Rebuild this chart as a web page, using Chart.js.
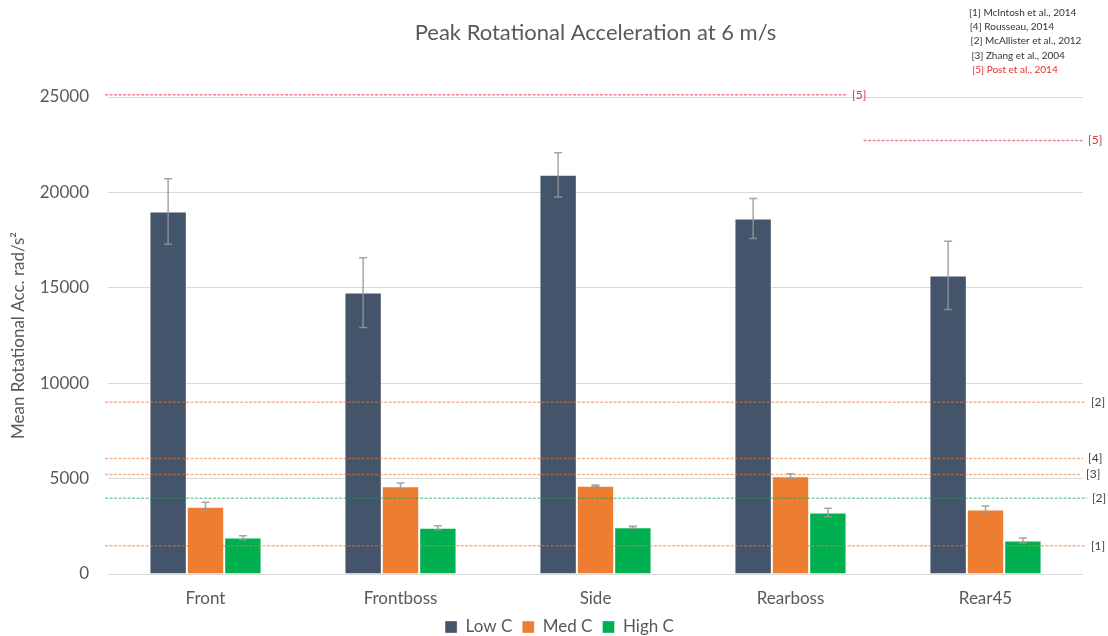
<!DOCTYPE html>
<html>
<head>
<meta charset="utf-8">
<script src="https://cdn.jsdelivr.net/npm/chart.js@4.4.1/dist/chart.umd.min.js"></script>
<style>
  html, body { margin: 0; padding: 0; background: #fff; }
  #wrap { width: 1108px; height: 636px; position: relative; }
</style>
</head>
<body>
<div id="wrap"><canvas id="accChart"></canvas></div>
<script>
// impact sites and mean peak rotational acceleration (rad/s^2)
const impactSites = ['Front', 'Frontboss', 'Side', 'Rearboss', 'Rear45'];
const lowC  = [19000, 14750, 20920, 18630, 15650];
const medC  = [3530, 4600, 4630, 5120, 3380];
const highC = [1910, 2430, 2450, 3220, 1760];
// standard deviations
const lowErr  = [1720, 1830, 1160, 1050, 1790];
const medErr  = [230, 170, 30, 130, 180];
const highErr = [100, 105, 50, 220, 130];

// published injury thresholds
const refValues = [25120, 22720, 9000, 6050, 5220, 3970, 1480];
const refTags   = ['[5]', '[5]', '[2]', '[4]', '[3]', '[2]', '[1]'];
const refSources = ['[1] McIntosh et al., 2014', '[4] Rousseau, 2014', '[2] McAllister et al., 2012',
                    '[3] Zhang et al., 2004', '[5] Post et al., 2014'];
const yTicks = [0, 5000, 10000, 15000, 20000, 25000];

const FONT = 'Lato, "Open Sans", sans-serif';
const RED = 'rgba(220, 30, 50, 0.55)';
const ORANGE = 'rgba(240, 120, 40, 0.55)';
const GREEN = 'rgba(0, 170, 80, 0.5)';
// line colour and horizontal span (fraction of plot width) for each threshold
const refLook = [
  { color: RED, from: -0.003, to: 0.758, text: '#d9393f' },
  { color: RED, from: 0.775, to: 1.0, text: '#d9393f' },
  { color: ORANGE, from: -0.003, to: 1.003, text: '#404040' },
  { color: ORANGE, from: -0.003, to: 1.0, text: '#404040' },
  { color: ORANGE, from: -0.003, to: 0.998, text: '#404040' },
  { color: GREEN, from: -0.003, to: 1.004, text: '#404040' },
  { color: ORANGE, from: -0.003, to: 1.003, text: '#404040' }
];

const errorBars = {
  id: 'errorBars',
  afterDatasetsDraw(chart) {
    const ctx = chart.ctx;
    const y = chart.scales.y;
    const errs = [lowErr, medErr, highErr];
    ctx.save();
    ctx.strokeStyle = 'rgba(150, 150, 150, 0.85)';
    ctx.lineWidth = 1.5;
    chart.data.datasets.forEach((ds, i) => {
      chart.getDatasetMeta(i).data.forEach((bar, j) => {
        const v = ds.data[j], e = errs[i][j];
        const top = y.getPixelForValue(v + e);
        const bot = y.getPixelForValue(v - e);
        ctx.beginPath();
        ctx.moveTo(bar.x, top); ctx.lineTo(bar.x, bot);
        ctx.moveTo(bar.x - 4, top); ctx.lineTo(bar.x + 4, top);
        ctx.moveTo(bar.x - 4, bot); ctx.lineTo(bar.x + 4, bot);
        ctx.stroke();
      });
    });
    ctx.restore();
  }
};

const thresholds = {
  id: 'thresholds',
  afterDatasetsDraw(chart) {
    const ctx = chart.ctx;
    const area = chart.chartArea;
    const y = chart.scales.y;
    const w = area.right - area.left;
    ctx.save();
    ctx.lineWidth = 1.5;
    ctx.setLineDash([3, 1.5]);
    ctx.font = '12px ' + FONT;
    ctx.textBaseline = 'middle';
    refValues.forEach((v, i) => {
      const look = refLook[i];
      const py = y.getPixelForValue(v);
      const x0 = area.left + look.from * w;
      const x1 = area.left + look.to * w;
      ctx.strokeStyle = look.color;
      ctx.beginPath();
      ctx.moveTo(x0, py); ctx.lineTo(x1, py);
      ctx.stroke();
      ctx.fillStyle = look.text;
      ctx.fillText(refTags[i], x1 + 5, py);
    });
    // source list, top right
    ctx.font = '10px ' + FONT;
    refSources.forEach((s, i) => {
      ctx.fillStyle = i === refSources.length - 1 ? '#e03030' : '#333';
      ctx.fillText(s, 969 + i * 0.8, 12.5 + i * 14.3);
    });
    ctx.restore();
  }
};

new Chart(document.getElementById('accChart'), {
  type: 'bar',
  data: {
    labels: impactSites,
    datasets: [
      { label: 'Low C', data: lowC, backgroundColor: '#44546a' },
      { label: 'Med C', data: medC, backgroundColor: '#ed7d31' },
      { label: 'High C', data: highC, backgroundColor: '#00b050' }
    ].map(d => Object.assign(d, {
      borderColor: 'rgba(255, 255, 255, 0.35)',
      borderWidth: 1,
      categoryPercentage: 0.575,
      barPercentage: 1.0
    }))
  },
  options: {
    responsive: true,
    maintainAspectRatio: false,
    animation: false,
    layout: { padding: { left: 36, right: 25, top: 0, bottom: -9.5 } },
    plugins: {
      title: {
        display: true,
        fullSize: false,
        text: 'Peak Rotational Acceleration at 6 m/s',
        color: '#595959',
        font: { family: FONT, size: 22, weight: 'normal' },
        padding: { top: 20, bottom: 50.6 }
      },
      legend: {
        position: 'bottom',
        labels: {
          color: '#595959',
          font: { family: FONT, size: 17 },
          boxWidth: 12,
          boxHeight: 12,
          padding: 10
        }
      },
      tooltip: { enabled: false }
    },
    scales: {
      x: {
        grid: { display: false, drawTicks: false },
        border: { display: false },
        ticks: { color: '#595959', font: { family: FONT, size: 17 }, padding: 14 },
        afterFit(scale) { scale.height = 34.5; }
      },
      y: {
        min: 0,
        max: 25000,
        afterBuildTicks(scale) { scale.ticks = yTicks.map(v => ({ value: v })); },
        grid: { color: '#d9d9d9', drawTicks: false },
        border: { display: false },
        ticks: {
          color: '#595959',
          font: { family: FONT, size: 17 },
          padding: 19,
          callback: v => String(v)
        },
        title: {
          display: true,
          text: 'Mean Rotational Acc. rad/s²',
          color: '#595959',
          font: { family: FONT, size: 17 },
          padding: { top: -28, bottom: 0 }
        },
        afterFit(scale) { scale.width = 72; }
      }
    }
  },
  plugins: [errorBars, thresholds]
});
</script>
</body>
</html>
